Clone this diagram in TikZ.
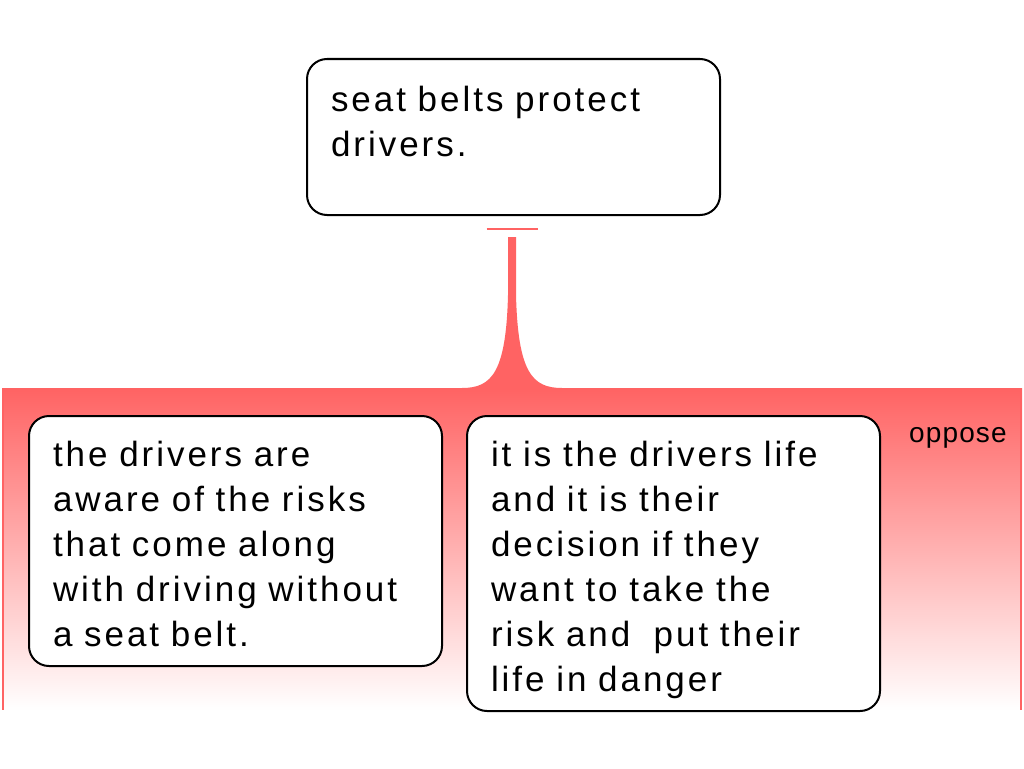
\documentclass[tikz,border=0pt]{standalone}
\usepackage{fontspec}
\setmainfont{Liberation Sans}
\newfontfamily\argfont{Liberation Sans}[LetterSpace=8.5, WordSpace=1.4]
\newfontfamily\tagfont{Liberation Sans}[LetterSpace=4]
\usetikzlibrary{calc}
\definecolor{oppred}{RGB}{255,99,99}
\tikzset{
  claim/.style={draw, line width=2pt, rounded corners=20pt, fill=white, anchor=north west,
    inner xsep=24pt, inner ysep=0pt, text width=365pt, align=left,
    font=\argfont\fontsize{35}{45}\selectfont},
  tag/.style={font=\tagfont\fontsize{28}{30}\selectfont, anchor=base west, inner sep=0pt}
}

\begin{document}
\begin{tikzpicture}[x=1pt,y=-1pt]
			\useasboundingbox (0,0) rectangle (1024,768);
			%%%%% band %%%%%
			\shade[top color=oppred, bottom color=white] (2,388) rectangle (1022,710);
			\draw[oppred, line width=2.5pt] (3,388) -- (3,710);
			\draw[oppred, line width=2.5pt] (1021,388) -- (1021,710);
			
			\node[claim, text height=52pt, text depth=104pt] (top) at (306,58) {seat belts protect\\drivers.};
			
			%%%%% stem %%%%%
			\coordinate (bar) at ($(top.south)+(0,13)$);
			\draw[oppred, line width=2.5pt] ($(bar)+(-27,0)$) -- ($(bar)+(24,0)$);
			\fill[oppred] (508,237) -- (508,295) .. controls (506,372) and (492,388) .. (462,388)
			  -- (562,388) .. controls (532,388) and (518,372) .. (516,295) -- (516,237) -- cycle;
			
			\node[claim, text height=50pt, text depth=200pt] (left) at (28,415) {the drivers are\\aware of the risks\\that come along\\with driving without\\a seat belt.};
			\node[claim, text height=50pt, text depth=245pt] (right) at (466,415) {it is the drivers life\\and it is their\\decision if they\\want to take the\\risk and~ put their\\life in danger};
			
			\node[tag] (opp) at (909,442) {oppose};
\end{tikzpicture}
\end{document}
